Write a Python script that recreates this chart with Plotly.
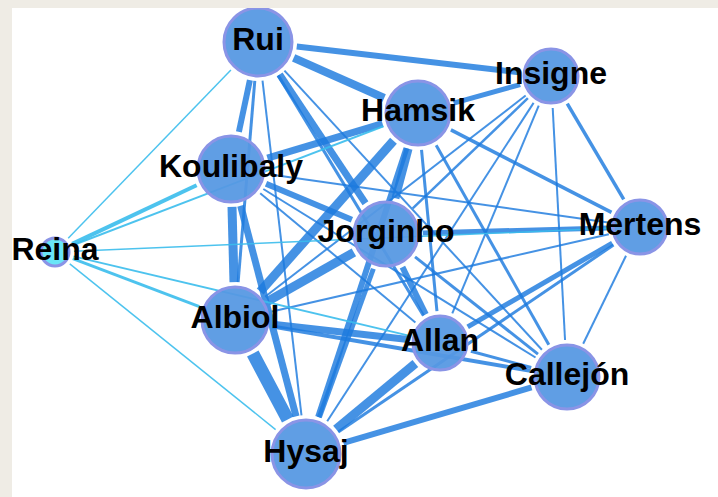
import numpy as np
import plotly.graph_objects as go

# ---- data ----
players = ["Rui", "Insigne", "Hamsik", "Koulibaly", "Jorginho", "Mertens",
           "Reina", "Albiol", "Allan", "Callejón", "Hysaj"]
layout_x = [258, 551, 418, 231, 386, 640, 55, 235, 440, 567, 306]
layout_y = [42, 76, 113, 169, 234, 227, 252, 320, 343, 377, 454]
node_passes = [68, 54, 64, 66, 64, 54, 28, 66, 54, 64, 68]

edge_source = ["Rui", "Rui", "Rui", "Rui", "Rui", "Rui", "Rui", "Rui", "Rui",
               "Hamsik", "Hamsik", "Hamsik", "Hamsik", "Hamsik", "Hamsik", "Hamsik", "Hamsik", "Hamsik",
               "Insigne", "Insigne", "Insigne", "Insigne", "Insigne", "Insigne",
               "Koulibaly", "Koulibaly", "Koulibaly", "Koulibaly", "Koulibaly", "Koulibaly", "Koulibaly",
               "Jorginho", "Jorginho", "Jorginho", "Jorginho", "Jorginho",
               "Mertens", "Mertens", "Mertens", "Mertens", "Mertens",
               "Reina", "Reina", "Reina",
               "Albiol", "Albiol", "Albiol",
               "Allan", "Allan", "Callejón"]
edge_target = ["Insigne", "Hamsik", "Koulibaly", "Jorginho", "Reina", "Albiol", "Allan", "Hysaj", "Callejón",
               "Insigne", "Koulibaly", "Jorginho", "Mertens", "Reina", "Albiol", "Hysaj", "Allan", "Callejón",
               "Mertens", "Jorginho", "Albiol", "Allan", "Callejón", "Hysaj",
               "Reina", "Albiol", "Hysaj", "Jorginho", "Mertens", "Allan", "Callejón",
               "Mertens", "Albiol", "Allan", "Hysaj", "Callejón",
               "Reina", "Albiol", "Allan", "Hysaj", "Callejón",
               "Albiol", "Allan", "Hysaj",
               "Allan", "Callejón", "Hysaj",
               "Callejón", "Hysaj", "Hysaj"]
edge_passes = [12, 16, 12, 14, 3, 6, 6, 4, 4,
               10, 14, 16, 7, 4, 18, 12, 6, 6,
               7, 5, 4, 4, 4, 4,
               8, 18, 14, 12, 4, 4, 4,
               10, 18, 12, 10, 6,
               3, 4, 10, 6, 4,
               6, 4, 3,
               14, 8, 26,
               6, 18, 12]

# ---- styles ----
BLUE = "rgba(28,122,222,0.82)"
CYAN = "rgba(58,188,236,0.9)"
NODE_FILL = "rgba(86,152,226,0.94)"
REINA_FILL = "rgba(96,228,246,0.94)"
NODE_LINE = "rgb(138,148,230)"
GAP = 5

idx = {p: i for i, p in enumerate(players)}
size = np.array(node_passes, dtype=float)  # diameter px
radius = size / 2.0
X = np.array(layout_x, dtype=float)
Y = np.array(layout_y, dtype=float)

fig = go.Figure()

for s, t, w in zip(edge_source, edge_target, edge_passes):
    i, j = idx[s], idx[t]
    dx, dy = X[j] - X[i], Y[j] - Y[i]
    d = np.hypot(dx, dy)
    ux, uy = dx / d, dy / d
    a = radius[i] + GAP
    b = radius[j] + GAP
    xs = [X[i] + ux * a, X[j] - ux * b]
    ys = [Y[i] + uy * a, Y[j] - uy * b]
    col = CYAN if "Reina" in (s, t) else BLUE
    fig.add_trace(go.Scatter(x=xs, y=ys, mode="lines",
                             line=dict(color=col, width=w * 0.5),
                             hoverinfo="skip", showlegend=False))

fills = [REINA_FILL if p == "Reina" else NODE_FILL for p in players]
fig.add_trace(go.Scatter(x=X, y=Y, mode="markers",
                         marker=dict(size=size, color=fills, opacity=1,
                                     line=dict(color=NODE_LINE, width=3)),
                         hoverinfo="skip", showlegend=False))
fig.add_trace(go.Scatter(x=X, y=Y, mode="text", text=players,
                         textposition="middle center",
                         textfont=dict(family="Liberation Sans, Arial, sans-serif",
                                       size=32, color="black", weight="bold"),
                         hoverinfo="skip", showlegend=False))

fig.update_layout(
    width=718, height=497,
    margin=dict(l=12, r=0, t=8, b=0),
    paper_bgcolor="#efece5",
    plot_bgcolor="white",
    xaxis=dict(range=[12, 718], visible=False, fixedrange=True),
    yaxis=dict(range=[497, 8], visible=False, fixedrange=True),
)

fig.write_html("out.html",
               config={"displayModeBar": False, "staticPlot": True},
               post_script="document.body.style.margin='0';document.body.style.background='#efece5';")
